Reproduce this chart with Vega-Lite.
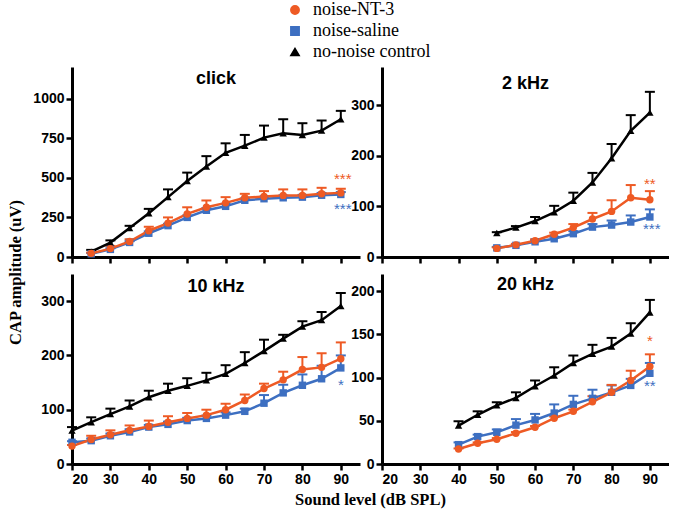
{
  "$schema": "https://vega.github.io/schema/vega-lite/v6.json",
  "padding": {"left": 7, "top": 1, "right": 0, "bottom": 4},
  "background": "white",
  "datasets": {
    "d": [
      {"panel":"click","group":"no-noise control","db":25,"mean":34,"upper":45},
      {"panel":"click","group":"no-noise control","db":30,"mean":91,"upper":105},
      {"panel":"click","group":"no-noise control","db":35,"mean":183,"upper":197},
      {"panel":"click","group":"no-noise control","db":40,"mean":276,"upper":304},
      {"panel":"click","group":"no-noise control","db":45,"mean":378,"upper":427},
      {"panel":"click","group":"no-noise control","db":50,"mean":480,"upper":533},
      {"panel":"click","group":"no-noise control","db":55,"mean":571,"upper":637},
      {"panel":"click","group":"no-noise control","db":60,"mean":658,"upper":718},
      {"panel":"click","group":"no-noise control","db":65,"mean":703,"upper":771},
      {"panel":"click","group":"no-noise control","db":70,"mean":754,"upper":830},
      {"panel":"click","group":"no-noise control","db":75,"mean":781,"upper":870},
      {"panel":"click","group":"no-noise control","db":80,"mean":771,"upper":845},
      {"panel":"click","group":"no-noise control","db":85,"mean":798,"upper":862},
      {"panel":"click","group":"no-noise control","db":90,"mean":870,"upper":923},
      {"panel":"click","group":"noise-saline","db":25,"mean":20,"upper":25},
      {"panel":"click","group":"noise-saline","db":30,"mean":48,"upper":55},
      {"panel":"click","group":"noise-saline","db":35,"mean":92,"upper":100},
      {"panel":"click","group":"noise-saline","db":40,"mean":150,"upper":162},
      {"panel":"click","group":"noise-saline","db":45,"mean":198,"upper":210},
      {"panel":"click","group":"noise-saline","db":50,"mean":250,"upper":262},
      {"panel":"click","group":"noise-saline","db":55,"mean":295,"upper":308},
      {"panel":"click","group":"noise-saline","db":60,"mean":320,"upper":335},
      {"panel":"click","group":"noise-saline","db":65,"mean":358,"upper":370},
      {"panel":"click","group":"noise-saline","db":70,"mean":368,"upper":380},
      {"panel":"click","group":"noise-saline","db":75,"mean":374,"upper":388},
      {"panel":"click","group":"noise-saline","db":80,"mean":378,"upper":392},
      {"panel":"click","group":"noise-saline","db":85,"mean":390,"upper":404},
      {"panel":"click","group":"noise-saline","db":90,"mean":395,"upper":410},
      {"panel":"click","group":"noise-NT-3","db":25,"mean":23,"upper":28},
      {"panel":"click","group":"noise-NT-3","db":30,"mean":53,"upper":70},
      {"panel":"click","group":"noise-NT-3","db":35,"mean":98,"upper":112},
      {"panel":"click","group":"noise-NT-3","db":40,"mean":166,"upper":191},
      {"panel":"click","group":"noise-NT-3","db":45,"mean":214,"upper":250},
      {"panel":"click","group":"noise-NT-3","db":50,"mean":272,"upper":314},
      {"panel":"click","group":"noise-NT-3","db":55,"mean":314,"upper":357},
      {"panel":"click","group":"noise-NT-3","db":60,"mean":342,"upper":378},
      {"panel":"click","group":"noise-NT-3","db":65,"mean":374,"upper":399},
      {"panel":"click","group":"noise-NT-3","db":70,"mean":382,"upper":416},
      {"panel":"click","group":"noise-NT-3","db":75,"mean":389,"upper":427},
      {"panel":"click","group":"noise-NT-3","db":80,"mean":389,"upper":427},
      {"panel":"click","group":"noise-NT-3","db":85,"mean":399,"upper":437},
      {"panel":"click","group":"noise-NT-3","db":90,"mean":405,"upper":431},

      {"panel":"2k","group":"no-noise control","db":50,"mean":47.5,"upper":49},
      {"panel":"2k","group":"no-noise control","db":55,"mean":58,"upper":61},
      {"panel":"2k","group":"no-noise control","db":60,"mean":71,"upper":79},
      {"panel":"2k","group":"no-noise control","db":65,"mean":88,"upper":101},
      {"panel":"2k","group":"no-noise control","db":70,"mean":111,"upper":127},
      {"panel":"2k","group":"no-noise control","db":75,"mean":147,"upper":166},
      {"panel":"2k","group":"no-noise control","db":80,"mean":195,"upper":223},
      {"panel":"2k","group":"no-noise control","db":85,"mean":249,"upper":280},
      {"panel":"2k","group":"no-noise control","db":90,"mean":285,"upper":326},
      {"panel":"2k","group":"noise-saline","db":50,"mean":18,"upper":20},
      {"panel":"2k","group":"noise-saline","db":55,"mean":23,"upper":25},
      {"panel":"2k","group":"noise-saline","db":60,"mean":30,"upper":33},
      {"panel":"2k","group":"noise-saline","db":65,"mean":36,"upper":40},
      {"panel":"2k","group":"noise-saline","db":70,"mean":46,"upper":51},
      {"panel":"2k","group":"noise-saline","db":75,"mean":59,"upper":65},
      {"panel":"2k","group":"noise-saline","db":80,"mean":63,"upper":72},
      {"panel":"2k","group":"noise-saline","db":85,"mean":69,"upper":82},
      {"panel":"2k","group":"noise-saline","db":90,"mean":79,"upper":94},
      {"panel":"2k","group":"noise-NT-3","db":50,"mean":17,"upper":19},
      {"panel":"2k","group":"noise-NT-3","db":55,"mean":24,"upper":26},
      {"panel":"2k","group":"noise-NT-3","db":60,"mean":32,"upper":35},
      {"panel":"2k","group":"noise-NT-3","db":65,"mean":45,"upper":48},
      {"panel":"2k","group":"noise-NT-3","db":70,"mean":58,"upper":65},
      {"panel":"2k","group":"noise-NT-3","db":75,"mean":75,"upper":87},
      {"panel":"2k","group":"noise-NT-3","db":80,"mean":90,"upper":112},
      {"panel":"2k","group":"noise-NT-3","db":85,"mean":117,"upper":142},
      {"panel":"2k","group":"noise-NT-3","db":90,"mean":113,"upper":130},

      {"panel":"10k","group":"no-noise control","db":20,"mean":61.5,"upper":68},
      {"panel":"10k","group":"no-noise control","db":25,"mean":77,"upper":86},
      {"panel":"10k","group":"no-noise control","db":30,"mean":92,"upper":102},
      {"panel":"10k","group":"no-noise control","db":35,"mean":106,"upper":117},
      {"panel":"10k","group":"no-noise control","db":40,"mean":123,"upper":135},
      {"panel":"10k","group":"no-noise control","db":45,"mean":135,"upper":148},
      {"panel":"10k","group":"no-noise control","db":50,"mean":144,"upper":158},
      {"panel":"10k","group":"no-noise control","db":55,"mean":154,"upper":168},
      {"panel":"10k","group":"no-noise control","db":60,"mean":166,"upper":182},
      {"panel":"10k","group":"no-noise control","db":65,"mean":186,"upper":206},
      {"panel":"10k","group":"no-noise control","db":70,"mean":208,"upper":229},
      {"panel":"10k","group":"no-noise control","db":75,"mean":231,"upper":238},
      {"panel":"10k","group":"no-noise control","db":80,"mean":253,"upper":263},
      {"panel":"10k","group":"no-noise control","db":85,"mean":265,"upper":280},
      {"panel":"10k","group":"no-noise control","db":90,"mean":291,"upper":315},
      {"panel":"10k","group":"noise-saline","db":20,"mean":40,"upper":42},
      {"panel":"10k","group":"noise-saline","db":25,"mean":43,"upper":47},
      {"panel":"10k","group":"noise-saline","db":30,"mean":52,"upper":56},
      {"panel":"10k","group":"noise-saline","db":35,"mean":59,"upper":64},
      {"panel":"10k","group":"noise-saline","db":40,"mean":68,"upper":72},
      {"panel":"10k","group":"noise-saline","db":45,"mean":73,"upper":78},
      {"panel":"10k","group":"noise-saline","db":50,"mean":80,"upper":85},
      {"panel":"10k","group":"noise-saline","db":55,"mean":84,"upper":89},
      {"panel":"10k","group":"noise-saline","db":60,"mean":90,"upper":95},
      {"panel":"10k","group":"noise-saline","db":65,"mean":97,"upper":102},
      {"panel":"10k","group":"noise-saline","db":70,"mean":112,"upper":127},
      {"panel":"10k","group":"noise-saline","db":75,"mean":131,"upper":146},
      {"panel":"10k","group":"noise-saline","db":80,"mean":145,"upper":165},
      {"panel":"10k","group":"noise-saline","db":85,"mean":157,"upper":181},
      {"panel":"10k","group":"noise-saline","db":90,"mean":177,"upper":200},
      {"panel":"10k","group":"noise-NT-3","db":20,"mean":33,"upper":35},
      {"panel":"10k","group":"noise-NT-3","db":25,"mean":45,"upper":52},
      {"panel":"10k","group":"noise-NT-3","db":30,"mean":54,"upper":62},
      {"panel":"10k","group":"noise-NT-3","db":35,"mean":62,"upper":71},
      {"panel":"10k","group":"noise-NT-3","db":40,"mean":69,"upper":80},
      {"panel":"10k","group":"noise-NT-3","db":45,"mean":77,"upper":88},
      {"panel":"10k","group":"noise-NT-3","db":50,"mean":84,"upper":94},
      {"panel":"10k","group":"noise-NT-3","db":55,"mean":90,"upper":100},
      {"panel":"10k","group":"noise-NT-3","db":60,"mean":100,"upper":111},
      {"panel":"10k","group":"noise-NT-3","db":65,"mean":117,"upper":128},
      {"panel":"10k","group":"noise-NT-3","db":70,"mean":139,"upper":148},
      {"panel":"10k","group":"noise-NT-3","db":75,"mean":155,"upper":170},
      {"panel":"10k","group":"noise-NT-3","db":80,"mean":174,"upper":197},
      {"panel":"10k","group":"noise-NT-3","db":85,"mean":178,"upper":204},
      {"panel":"10k","group":"noise-NT-3","db":90,"mean":194,"upper":224},

      {"panel":"20k","group":"no-noise control","db":40,"mean":44.5,"upper":49.5},
      {"panel":"20k","group":"no-noise control","db":45,"mean":57,"upper":61},
      {"panel":"20k","group":"no-noise control","db":50,"mean":68,"upper":71.5},
      {"panel":"20k","group":"no-noise control","db":55,"mean":76.5,"upper":83},
      {"panel":"20k","group":"no-noise control","db":60,"mean":90,"upper":96.7},
      {"panel":"20k","group":"no-noise control","db":65,"mean":102.5,"upper":112},
      {"panel":"20k","group":"no-noise control","db":70,"mean":117,"upper":125.6},
      {"panel":"20k","group":"no-noise control","db":75,"mean":127.6,"upper":138},
      {"panel":"20k","group":"no-noise control","db":80,"mean":136,"upper":146},
      {"panel":"20k","group":"no-noise control","db":85,"mean":151,"upper":163},
      {"panel":"20k","group":"no-noise control","db":90,"mean":175.5,"upper":190},
      {"panel":"20k","group":"noise-saline","db":40,"mean":22.4,"upper":25},
      {"panel":"20k","group":"noise-saline","db":45,"mean":31.7,"upper":34},
      {"panel":"20k","group":"noise-saline","db":50,"mean":36.7,"upper":40},
      {"panel":"20k","group":"noise-saline","db":55,"mean":45,"upper":52},
      {"panel":"20k","group":"noise-saline","db":60,"mean":51,"upper":58},
      {"panel":"20k","group":"noise-saline","db":65,"mean":59,"upper":69},
      {"panel":"20k","group":"noise-saline","db":70,"mean":69,"upper":79},
      {"panel":"20k","group":"noise-saline","db":75,"mean":76,"upper":86},
      {"panel":"20k","group":"noise-saline","db":80,"mean":83,"upper":91},
      {"panel":"20k","group":"noise-saline","db":85,"mean":91,"upper":98.6},
      {"panel":"20k","group":"noise-saline","db":90,"mean":105,"upper":117},
      {"panel":"20k","group":"noise-NT-3","db":40,"mean":17.4,"upper":18},
      {"panel":"20k","group":"noise-NT-3","db":45,"mean":24,"upper":25},
      {"panel":"20k","group":"noise-NT-3","db":50,"mean":28.6,"upper":30},
      {"panel":"20k","group":"noise-NT-3","db":55,"mean":35.6,"upper":37},
      {"panel":"20k","group":"noise-NT-3","db":60,"mean":42.5,"upper":44},
      {"panel":"20k","group":"noise-NT-3","db":65,"mean":53,"upper":55},
      {"panel":"20k","group":"noise-NT-3","db":70,"mean":61,"upper":63},
      {"panel":"20k","group":"noise-NT-3","db":75,"mean":72,"upper":78.5},
      {"panel":"20k","group":"noise-NT-3","db":80,"mean":83,"upper":91.6},
      {"panel":"20k","group":"noise-NT-3","db":85,"mean":96.7,"upper":108},
      {"panel":"20k","group":"noise-NT-3","db":90,"mean":113,"upper":127}
    ],
    "stars": [
      {"panel":"click","group":"noise-NT-3","db":90.5,"value":493,"label":"***"},
      {"panel":"click","group":"noise-saline","db":90.5,"value":303,"label":"***"},
      {"panel":"2k","group":"noise-NT-3","db":90,"value":145,"label":"**"},
      {"panel":"2k","group":"noise-saline","db":90.5,"value":56,"label":"***"},
      {"panel":"10k","group":"noise-saline","db":90,"value":145,"label":"*"},
      {"panel":"20k","group":"noise-NT-3","db":90,"value":142,"label":"*"},
      {"panel":"20k","group":"noise-saline","db":90,"value":90,"label":"**"}
    ]
  },
  "columns": 2,
  "bounds": "flush",
  "spacing": {"row": 17, "column": 22},
  "resolve": {"scale": {"x": "independent", "y": "independent", "color": "shared", "shape": "shared"}},
  "concat": [
    {
      "width": 288, "height": 190,
      "title": {"text": "click", "offset": -21, "frame": "group", "anchor": "middle", "font": "Liberation Sans", "fontWeight": "bold", "fontSize": 18, "color": "black"},
      "layer": [
        {"data": {"name": "d"}, "transform": [{"filter": "datum.panel === 'click'"}], "mark": {"type": "rule", "strokeWidth": 2}, "encoding": {"x": {"field": "db", "type": "quantitative", "scale": {"domain": [20, 95], "nice": false, "zero": false}, "axis": {"values": [20,30,40,50,60,70,80,90], "labels": false, "title": null}}, "y": {"field": "mean", "type": "quantitative", "scale": {"domain": [0, 1200], "nice": false}, "axis": {"values": [0,250,500,750,1000], "title": "CAP amplitude (uV)", "titleX": -57, "titleY": 205, "titleAngle": -90, "titleAlign": "center", "titleBaseline": "middle"}}, "y2": {"field": "upper"}, "color": {"field": "group", "type": "nominal", "scale": {"domain": ["noise-NT-3", "noise-saline", "no-noise control"], "range": ["#EE5A24", "#3D6FC1", "#000000"]}}}},
        {"data": {"name": "d"}, "transform": [{"filter": "datum.panel === 'click'"}], "mark": {"type": "tick", "orient": "horizontal", "size": 10, "thickness": 2, "opacity": 1}, "encoding": {"x": {"field": "db", "type": "quantitative"}, "y": {"field": "upper", "type": "quantitative"}, "color": {"field": "group", "type": "nominal"}}},
        {"data": {"name": "d"}, "transform": [{"filter": "datum.panel === 'click'"}], "mark": {"type": "line", "strokeWidth": 2.5}, "encoding": {"x": {"field": "db", "type": "quantitative"}, "y": {"field": "mean", "type": "quantitative"}, "color": {"field": "group", "type": "nominal"}}},
        {"data": {"name": "d"}, "transform": [{"filter": "datum.panel === 'click'"}], "mark": {"type": "point", "filled": true, "size": 55, "opacity": 1}, "encoding": {"x": {"field": "db", "type": "quantitative"}, "y": {"field": "mean", "type": "quantitative"}, "color": {"field": "group", "type": "nominal"}, "shape": {"field": "group", "type": "nominal", "scale": {"domain": ["noise-NT-3", "noise-saline", "no-noise control"], "range": ["circle", "square", "triangle-up"]}}}},
        {"data": {"name": "stars"}, "transform": [{"filter": "datum.panel === 'click'"}], "mark": {"type": "text", "font": "Liberation Sans", "fontSize": 15, "baseline": "middle"}, "encoding": {"x": {"field": "db", "type": "quantitative"}, "y": {"field": "value", "type": "quantitative"}, "text": {"field": "label"}, "color": {"field": "group", "type": "nominal"}}}
      ]
    },
    {
      "width": 287, "height": 190,
      "title": {"text": "2 kHz", "offset": -26, "frame": "group", "anchor": "middle", "font": "Liberation Sans", "fontWeight": "bold", "fontSize": 18, "color": "black"},
      "layer": [
        {"data": {"name": "d"}, "transform": [{"filter": "datum.panel === '2k'"}], "mark": {"type": "rule", "strokeWidth": 2}, "encoding": {"x": {"field": "db", "type": "quantitative", "scale": {"domain": [20, 95], "nice": false, "zero": false}, "axis": {"values": [20,30,40,50,60,70,80,90], "labels": false, "title": null}}, "y": {"field": "mean", "type": "quantitative", "scale": {"domain": [0, 375], "nice": false}, "axis": {"values": [0,100,200,300], "title": null}}, "y2": {"field": "upper"}, "color": {"field": "group", "type": "nominal"}}},
        {"data": {"name": "d"}, "transform": [{"filter": "datum.panel === '2k'"}], "mark": {"type": "tick", "orient": "horizontal", "size": 10, "thickness": 2, "opacity": 1}, "encoding": {"x": {"field": "db", "type": "quantitative"}, "y": {"field": "upper", "type": "quantitative"}, "color": {"field": "group", "type": "nominal"}}},
        {"data": {"name": "d"}, "transform": [{"filter": "datum.panel === '2k'"}], "mark": {"type": "line", "strokeWidth": 2.5}, "encoding": {"x": {"field": "db", "type": "quantitative"}, "y": {"field": "mean", "type": "quantitative"}, "color": {"field": "group", "type": "nominal"}}},
        {"data": {"name": "d"}, "transform": [{"filter": "datum.panel === '2k'"}], "mark": {"type": "point", "filled": true, "size": 55, "opacity": 1}, "encoding": {"x": {"field": "db", "type": "quantitative"}, "y": {"field": "mean", "type": "quantitative"}, "color": {"field": "group", "type": "nominal"}, "shape": {"field": "group", "type": "nominal"}}},
        {"data": {"name": "stars"}, "transform": [{"filter": "datum.panel === '2k'"}], "mark": {"type": "text", "font": "Liberation Sans", "fontSize": 15, "baseline": "middle"}, "encoding": {"x": {"field": "db", "type": "quantitative"}, "y": {"field": "value", "type": "quantitative"}, "text": {"field": "label"}, "color": {"field": "group", "type": "nominal"}}}
      ]
    },
    {
      "width": 288, "height": 190,
      "title": {"text": "10 kHz", "offset": -22, "frame": "group", "anchor": "middle", "font": "Liberation Sans", "fontWeight": "bold", "fontSize": 18, "color": "black"},
      "layer": [
        {"data": {"name": "d"}, "transform": [{"filter": "datum.panel === '10k'"}], "mark": {"type": "rule", "strokeWidth": 2}, "encoding": {"x": {"field": "db", "type": "quantitative", "scale": {"domain": [20, 95], "nice": false, "zero": false}, "axis": {"values": [20,30,40,50,60,70,80,90], "title": "Sound level (dB SPL)", "titleX": 298, "titleY": 35, "titleBaseline": "middle", "titleAlign": "center"}}, "y": {"field": "mean", "type": "quantitative", "scale": {"domain": [0, 350], "nice": false}, "axis": {"values": [0,100,200,300], "title": null}}, "y2": {"field": "upper"}, "color": {"field": "group", "type": "nominal"}}},
        {"data": {"name": "d"}, "transform": [{"filter": "datum.panel === '10k'"}], "mark": {"type": "tick", "orient": "horizontal", "size": 10, "thickness": 2, "opacity": 1}, "encoding": {"x": {"field": "db", "type": "quantitative"}, "y": {"field": "upper", "type": "quantitative"}, "color": {"field": "group", "type": "nominal"}}},
        {"data": {"name": "d"}, "transform": [{"filter": "datum.panel === '10k'"}], "mark": {"type": "line", "strokeWidth": 2.5}, "encoding": {"x": {"field": "db", "type": "quantitative"}, "y": {"field": "mean", "type": "quantitative"}, "color": {"field": "group", "type": "nominal"}}},
        {"data": {"name": "d"}, "transform": [{"filter": "datum.panel === '10k'"}], "mark": {"type": "point", "filled": true, "size": 55, "opacity": 1}, "encoding": {"x": {"field": "db", "type": "quantitative"}, "y": {"field": "mean", "type": "quantitative"}, "color": {"field": "group", "type": "nominal"}, "shape": {"field": "group", "type": "nominal"}}},
        {"data": {"name": "stars"}, "transform": [{"filter": "datum.panel === '10k'"}], "mark": {"type": "text", "font": "Liberation Sans", "fontSize": 15, "baseline": "middle"}, "encoding": {"x": {"field": "db", "type": "quantitative"}, "y": {"field": "value", "type": "quantitative"}, "text": {"field": "label"}, "color": {"field": "group", "type": "nominal"}}}
      ]
    },
    {
      "width": 287, "height": 190,
      "title": {"text": "20 kHz", "offset": -20, "frame": "group", "anchor": "middle", "font": "Liberation Sans", "fontWeight": "bold", "fontSize": 18, "color": "black"},
      "layer": [
        {"data": {"name": "d"}, "transform": [{"filter": "datum.panel === '20k'"}], "mark": {"type": "rule", "strokeWidth": 2}, "encoding": {"x": {"field": "db", "type": "quantitative", "scale": {"domain": [20, 95], "nice": false, "zero": false}, "axis": {"values": [20,30,40,50,60,70,80,90], "title": null}}, "y": {"field": "mean", "type": "quantitative", "scale": {"domain": [0, 220], "nice": false}, "axis": {"values": [0,50,100,150,200], "title": null}}, "y2": {"field": "upper"}, "color": {"field": "group", "type": "nominal"}}},
        {"data": {"name": "d"}, "transform": [{"filter": "datum.panel === '20k'"}], "mark": {"type": "tick", "orient": "horizontal", "size": 10, "thickness": 2, "opacity": 1}, "encoding": {"x": {"field": "db", "type": "quantitative"}, "y": {"field": "upper", "type": "quantitative"}, "color": {"field": "group", "type": "nominal"}}},
        {"data": {"name": "d"}, "transform": [{"filter": "datum.panel === '20k'"}], "mark": {"type": "line", "strokeWidth": 2.5}, "encoding": {"x": {"field": "db", "type": "quantitative"}, "y": {"field": "mean", "type": "quantitative"}, "color": {"field": "group", "type": "nominal"}}},
        {"data": {"name": "d"}, "transform": [{"filter": "datum.panel === '20k'"}], "mark": {"type": "point", "filled": true, "size": 55, "opacity": 1}, "encoding": {"x": {"field": "db", "type": "quantitative"}, "y": {"field": "mean", "type": "quantitative"}, "color": {"field": "group", "type": "nominal"}, "shape": {"field": "group", "type": "nominal"}}},
        {"data": {"name": "stars"}, "transform": [{"filter": "datum.panel === '20k'"}], "mark": {"type": "text", "font": "Liberation Sans", "fontSize": 15, "baseline": "middle"}, "encoding": {"x": {"field": "db", "type": "quantitative"}, "y": {"field": "value", "type": "quantitative"}, "text": {"field": "label"}, "color": {"field": "group", "type": "nominal"}}}
      ]
    }
  ],
  "config": {
    "view": {"stroke": null},
    "axis": {
      "domainColor": "black", "domainWidth": 3, "tickColor": "black", "tickWidth": 2.5, "tickSize": 6,
      "labelFont": "Liberation Sans", "labelFontWeight": "bold", "labelFontSize": 14, "labelColor": "black", "labelPadding": 2,
      "grid": false, "format": "d",
      "titleFont": "Liberation Serif", "titleFontWeight": "bold", "titleFontSize": 16.5, "titleColor": "black"
    },
    "legend": {
      "orient": "none", "legendX": 214, "legendY": -66, "title": null,
      "labelFont": "Liberation Serif", "labelFontSize": 18, "labelColor": "black",
      "symbolSize": 70, "rowPadding": 3, "labelOffset": 9
    }
  }
}
